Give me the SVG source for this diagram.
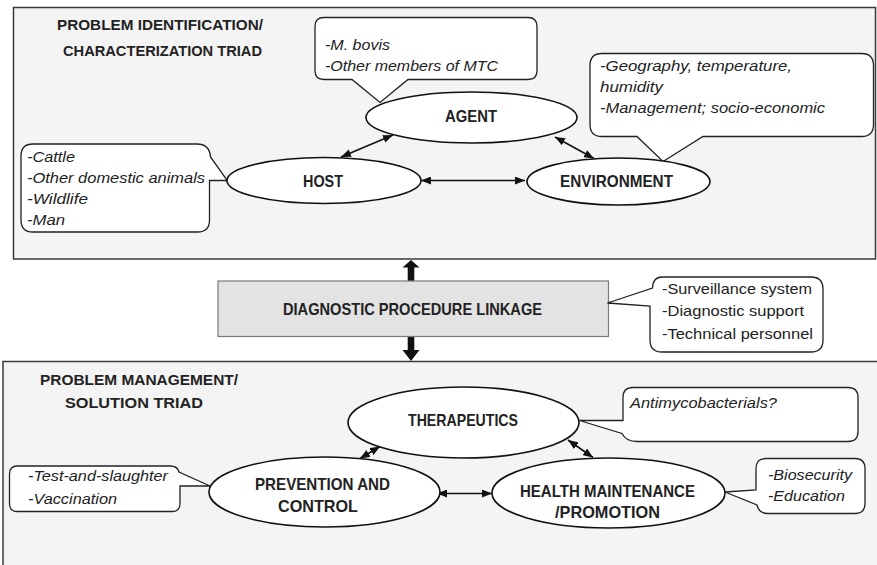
<svg xmlns="http://www.w3.org/2000/svg" width="877" height="565" viewBox="0 0 877 565">
<defs>
<marker id="ah" markerUnits="userSpaceOnUse" markerWidth="10" markerHeight="8" refX="10" refY="4" orient="auto-start-reverse">
<path d="M0,0 L10,4 L0,8 Z" fill="#111"/>
</marker>
</defs>
<style>
.panel{fill:#f4f4f4;stroke:#3a3a3a;stroke-width:1.5}
.ell{fill:#fff;stroke:#111;stroke-width:1.6}
.call{fill:#fff;stroke:#222;stroke-width:1.3}
.conn{stroke:#111;stroke-width:1.6;fill:none;marker-start:url(#ah);marker-end:url(#ah)}
.blk{fill:#111}
text{font-family:"Liberation Sans",Arial,sans-serif;fill:#222}
.ti{font-size:14.5px;font-weight:bold}
.lb{font-size:16.5px;font-weight:bold}
.it{font-size:15px;font-style:italic}
.rg{font-size:15px}
</style>
<g id="panel-top"><rect class="panel" x="13.5" y="7.5" width="862" height="251.5"/>
<text class="ti" x="57" y="30" textLength="206" lengthAdjust="spacingAndGlyphs">PROBLEM IDENTIFICATION/</text>
<text class="ti" x="63" y="56" textLength="199" lengthAdjust="spacingAndGlyphs">CHARACTERIZATION TRIAD</text>
</g>
<g id="panel-bottom"><rect class="panel" x="3" y="361.5" width="884" height="220"/>
<text class="ti" x="40" y="385" textLength="198" lengthAdjust="spacingAndGlyphs">PROBLEM MANAGEMENT/</text>
<text class="ti" x="65" y="408" textLength="138" lengthAdjust="spacingAndGlyphs">SOLUTION TRIAD</text>
</g>
<g id="connectors">
<line class="conn" x1="341" y1="157" x2="393" y2="135"/>
<line class="conn" x1="421" y1="180.5" x2="525" y2="180.5"/>
<line class="conn" x1="555" y1="137" x2="594" y2="158.5"/>
<line class="conn" x1="360" y1="458.5" x2="380" y2="446.5"/>
<line class="conn" x1="568" y1="440" x2="593" y2="457.5"/>
<line class="conn" x1="437" y1="493.5" x2="492" y2="493.5"/>
<path class="blk" d="M411,260 L419.5,267.5 L414.3,267.5 L414.3,281 L407.7,281 L407.7,267.5 L402.5,267.5 Z"/>
<path class="blk" d="M411,361 L419.5,350 L414.3,350 L414.3,336 L407.7,336 L407.7,350 L402.5,350 Z"/>
</g>
<g id="agent-note"><path class="call" d="M324,17.5 H528 Q537,17.5 537,26.5 V70.5 Q537,79.5 528,79.5 H408 L380,102.5 L352,79.5 H324 Q315,79.5 315,70.5 V26.5 Q315,17.5 324,17.5 Z"/>
<text class="it" x="325" y="50" textLength="65" lengthAdjust="spacingAndGlyphs">-M. bovis</text>
<text class="it" x="325" y="71" textLength="173" lengthAdjust="spacingAndGlyphs">-Other members of MTC</text>
</g>
<g id="env-note"><path class="call" d="M602,53.5 H861.5 Q873.5,53.5 873.5,65.5 V124.5 Q873.5,136.5 861.5,136.5 H703 L663,161.5 L637,136.5 H602 Q590,136.5 590,124.5 V65.5 Q590,53.5 602,53.5 Z"/>
<text class="it" x="600" y="70.5" textLength="192" lengthAdjust="spacingAndGlyphs">-Geography, temperature,</text>
<text class="it" x="600" y="91.5" textLength="63" lengthAdjust="spacingAndGlyphs">humidity</text>
<text class="it" x="600" y="112.5" textLength="225" lengthAdjust="spacingAndGlyphs">-Management; socio-economic</text>
</g>
<g id="host-note"><path class="call" d="M33,144 H197 Q209.5,144 210.5,157 L227.3,180.5 L209.5,180.5 V220 Q209.5,232 197.5,232 H33 Q21,232 21,220 V156 Q21,144 33,144 Z"/>
<text class="it" x="27" y="161.5" textLength="48" lengthAdjust="spacingAndGlyphs">-Cattle</text>
<text class="it" x="27" y="182.5" textLength="178" lengthAdjust="spacingAndGlyphs">-Other domestic animals</text>
<text class="it" x="27" y="203.5" textLength="61" lengthAdjust="spacingAndGlyphs">-Wildlife</text>
<text class="it" x="27" y="224.5" textLength="38" lengthAdjust="spacingAndGlyphs">-Man</text>
</g>
<g id="agent"><ellipse class="ell" cx="471.5" cy="117.5" rx="105.5" ry="25.5"/>
<text class="lb" x="445" y="122" textLength="52" lengthAdjust="spacingAndGlyphs">AGENT</text></g>
<g id="host"><ellipse class="ell" cx="324" cy="180.5" rx="97" ry="23"/>
<text class="lb" x="303" y="186.5" textLength="40" lengthAdjust="spacingAndGlyphs">HOST</text></g>
<g id="environment"><ellipse class="ell" cx="618.5" cy="181.5" rx="91.5" ry="23.5"/>
<text class="lb" x="560" y="186.5" textLength="113" lengthAdjust="spacingAndGlyphs">ENVIRONMENT</text></g>
<g id="diagnostic"><rect x="218" y="281" width="390.5" height="55.5" fill="#e2e3e2" stroke="#7a7a7a" stroke-width="1.2"/>
<text class="lb" x="283" y="315" textLength="259" lengthAdjust="spacingAndGlyphs">DIAGNOSTIC PROCEDURE LINKAGE</text></g>
<g id="diagnostic-note"><path class="call" d="M662,277 H811 Q823,277 823,289 V340 Q823,352 811,352 H662 Q650,352 650,340 V306 L607.5,303 L652.5,288 Q653,277 662,277 Z"/>
<text class="rg" x="662" y="293.5" textLength="150" lengthAdjust="spacingAndGlyphs">-Surveillance system</text>
<text class="rg" x="662" y="316" textLength="142" lengthAdjust="spacingAndGlyphs">-Diagnostic support</text>
<text class="rg" x="662" y="338.5" textLength="151" lengthAdjust="spacingAndGlyphs">-Technical personnel</text>
</g>
<g id="prevention-note"><path class="call" d="M17.5,466 H170 Q177.5,466 179,472 L210,486 L180,486 V503.5 Q180,511.5 172,511.5 H17.5 Q9.5,511.5 9.5,503.5 V474 Q9.5,466 17.5,466 Z"/>
<text class="it" x="28" y="481" textLength="140" lengthAdjust="spacingAndGlyphs">-Test-and-slaughter</text>
<text class="it" x="28" y="503.5" textLength="89" lengthAdjust="spacingAndGlyphs">-Vaccination</text>
</g>
<g id="therapeutics-note"><path class="call" d="M633,387.5 H848 Q858,387.5 858,397.5 V431.5 Q858,441.5 848,441.5 H637 Q626,441.5 622,433.5 L579.5,420.5 L623,420.5 V397.5 Q623,387.5 633,387.5 Z"/>
<text class="it" x="630" y="407.5" textLength="147" lengthAdjust="spacingAndGlyphs">Antimycobacterials?</text>
</g>
<g id="health-note"><path class="call" d="M766,458.5 H855 Q865,458.5 865,468.5 V503.5 Q865,513.5 855,513.5 H768 Q759,513.5 757,505 L725,492 L756,490 V468.5 Q756,458.5 766,458.5 Z"/>
<text class="it" x="768" y="479.5" textLength="84" lengthAdjust="spacingAndGlyphs">-Biosecurity</text>
<text class="it" x="768" y="500.5" textLength="77" lengthAdjust="spacingAndGlyphs">-Education</text>
</g>
<g id="therapeutics"><ellipse class="ell" cx="463.5" cy="422.5" rx="115.5" ry="35.5"/>
<text class="lb" x="408" y="425.5" textLength="110" lengthAdjust="spacingAndGlyphs">THERAPEUTICS</text></g>
<g id="prevention"><ellipse class="ell" cx="324.5" cy="492" rx="115.5" ry="35"/>
<text class="lb" x="255" y="490" textLength="135" lengthAdjust="spacingAndGlyphs">PREVENTION AND</text>
<text class="lb" x="278" y="511.5" textLength="80" lengthAdjust="spacingAndGlyphs">CONTROL</text></g>
<g id="health"><ellipse class="ell" cx="608.5" cy="493" rx="116.5" ry="35"/>
<text class="lb" x="520" y="497" textLength="175" lengthAdjust="spacingAndGlyphs">HEALTH MAINTENANCE</text>
<text class="lb" x="555" y="518" textLength="105" lengthAdjust="spacingAndGlyphs">/PROMOTION</text></g>
</svg>
